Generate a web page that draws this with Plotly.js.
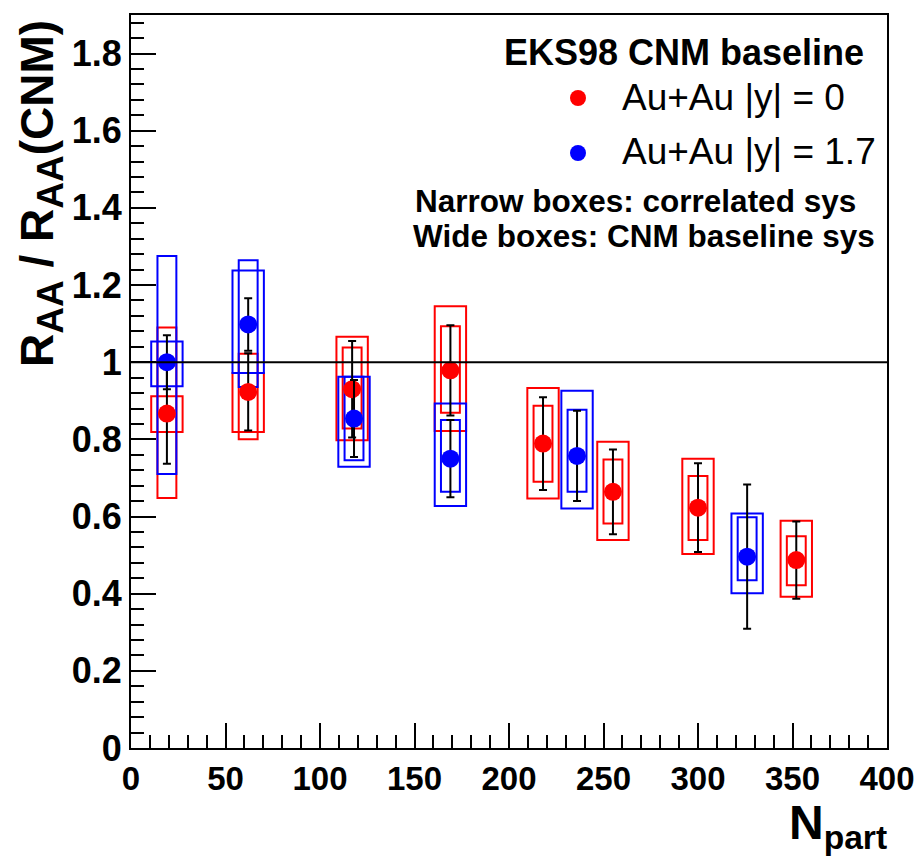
<!DOCTYPE html>
<html>
<head>
<meta charset="utf-8">
<script src="https://cdn.plot.ly/plotly-3.0.1.min.js"></script>
<style>html,body{margin:0;padding:0;background:#fff;}</style>
</head>
<body>
<div id="chart" style="width:922px;height:862px;"></div>
<script>
// Au+Au |y| = 0 (red)
const redNpart = [19, 62, 117, 169, 218, 255, 300, 352];
const redRatio = [0.867, 0.923, 0.930, 0.979, 0.789, 0.664, 0.623, 0.487];
const redStat  = [0.13, 0.10, 0.125, 0.117, 0.12, 0.11, 0.115, 0.10];
const redCorrLo = [0.648, 0.800, 0.828, 0.869, 0.690, 0.582, 0.539, 0.422];
const redCorrHi = [1.090, 1.022, 1.038, 1.093, 0.887, 0.748, 0.705, 0.549];
const redCnmLo  = [0.819, 0.819, 0.798, 0.822, 0.647, 0.539, 0.503, 0.392];
const redCnmHi  = [0.912, 0.972, 1.066, 1.145, 0.933, 0.794, 0.750, 0.589];

// Au+Au |y| = 1.7 (blue)
const blueNpart = [19, 62, 118, 169, 236, 326];
const blueRatio = [1.000, 1.098, 0.854, 0.750, 0.757, 0.496];
const blueStat  = [0.07, 0.068, 0.10, 0.10, 0.117, 0.187];
const blueCorrLo = [0.710, 0.936, 0.746, 0.664, 0.664, 0.435];
const blueCorrHi = [1.275, 1.264, 0.962, 0.850, 0.877, 0.598];
const blueCnmLo  = [0.938, 0.972, 0.729, 0.627, 0.621, 0.401];
const blueCnmHi  = [1.054, 1.238, 0.962, 0.893, 0.926, 0.608];

const xTickVals = [0, 50, 100, 150, 200, 250, 300, 350, 400];
const yTickVals = [0, 0.2, 0.4, 0.6, 0.8, 1, 1.2, 1.4, 1.6, 1.8];

const WIDE = 8.3, NARROW = 5.0;
const RED = 'rgb(255,0,0)', BLUE = 'rgb(0,0,255)';

function boxes(xs, lo, hi, half, color) {
  return xs.map((x, i) => ({
    type: 'rect', xref: 'x', yref: 'y', layer: 'below',
    x0: x - half, x1: x + half, y0: lo[i], y1: hi[i],
    line: {color: color, width: 2}, fillcolor: 'rgba(0,0,0,0)'
  }));
}

const shapes = [].concat(
  boxes(redNpart, redCnmLo, redCnmHi, WIDE, RED),
  boxes(redNpart, redCorrLo, redCorrHi, NARROW, RED),
  boxes(blueNpart, blueCnmLo, blueCnmHi, WIDE, BLUE),
  boxes(blueNpart, blueCorrLo, blueCorrHi, NARROW, BLUE),
  [
    {type: 'line', xref: 'paper', yref: 'y', x0: 0, x1: 1, y0: 1, y1: 1,
     line: {color: 'black', width: 2}},
    {type: 'circle', xref: 'paper', yref: 'paper',
     x0: (570-131)/756, x1: (586-131)/756, y0: (748-106)/733, y1: (748-90)/733,
     fillcolor: RED, line: {width: 0}},
    {type: 'circle', xref: 'paper', yref: 'paper',
     x0: (570-131)/756, x1: (586-131)/756, y0: (748-161)/733, y1: (748-145)/733,
     fillcolor: BLUE, line: {width: 0}}
  ]
);

const traces = [
  {type: 'scatter', mode: 'markers', name: 'Au+Au |y| = 0',
   x: redNpart, y: redRatio,
   error_y: {type: 'data', array: redStat, color: 'black', thickness: 2, width: 4},
   marker: {color: RED, size: 18}},
  {type: 'scatter', mode: 'markers', name: 'Au+Au |y| = 1.7',
   x: blueNpart, y: blueRatio,
   error_y: {type: 'data', array: blueStat, color: 'black', thickness: 2, width: 4},
   marker: {color: BLUE, size: 18}}
];

const FONT = 'Liberation Sans, Arial, Helvetica, sans-serif';
const annFont = (s, w) => ({family: FONT, size: s, color: 'black', weight: w});

const layout = {
  width: 922, height: 862,
  margin: {l: 131, r: 35, t: 15, b: 114},
  paper_bgcolor: 'white', plot_bgcolor: 'white',
  showlegend: false,
  xaxis: {
    range: [0, 400], tickvals: xTickVals, ticks: 'inside', ticklen: 25, tickwidth: 2,
    tickcolor: 'black',
    minor: {dtick: 10, ticks: 'inside', ticklen: 13, tickwidth: 2, tickcolor: 'black'},
    showline: true, mirror: true, linecolor: 'black', linewidth: 2,
    showgrid: false, zeroline: false,
    tickfont: {family: FONT, size: 33, color: 'black', weight: 'bold'}
  },
  yaxis: {
    range: [0, 1.9], tickvals: yTickVals, ticks: 'inside', ticklen: 25, tickwidth: 2,
    tickcolor: 'black',
    minor: {dtick: 0.04, ticks: 'inside', ticklen: 13, tickwidth: 2, tickcolor: 'black'},
    showline: true, mirror: true, linecolor: 'black', linewidth: 2,
    showgrid: false, zeroline: false,
    tickfont: {family: FONT, size: 36, color: 'black', weight: 'bold'}
  },
  shapes: shapes,
  annotations: [
    {xref: 'paper', yref: 'paper', x: (866-131)/756, y: (748-53)/733, xanchor: 'right', yanchor: 'middle',
     text: 'EKS98 CNM baseline', showarrow: false, font: annFont(36, 'bold')},
    {xref: 'paper', yref: 'paper', x: (620-131)/756, y: (748-97)/733, xanchor: 'left', yanchor: 'middle',
     text: 'Au+Au |y| = 0', showarrow: false, font: annFont(37, 'normal')},
    {xref: 'paper', yref: 'paper', x: (620-131)/756, y: (748-151)/733, xanchor: 'left', yanchor: 'middle',
     text: 'Au+Au |y| = 1.7', showarrow: false, font: annFont(37, 'normal')},
    {xref: 'paper', yref: 'paper', x: (858-131)/756, y: (748-201)/733, xanchor: 'right', yanchor: 'middle',
     text: 'Narrow boxes: correlated sys', showarrow: false, font: annFont(31.5, 'bold')},
    {xref: 'paper', yref: 'paper', x: (877-131)/756, y: (748-236)/733, xanchor: 'right', yanchor: 'middle',
     text: 'Wide boxes: CNM baseline sys', showarrow: false, font: annFont(31.5, 'bold')},
    {xref: 'paper', yref: 'paper', x: (41-131)/756, y: (748-194)/733, xanchor: 'center', yanchor: 'middle',
     textangle: -90,
     text: 'R<sub><span style="font-size:37px">AA</span></sub> / R<sub><span style="font-size:37px">AA</span></sub>(CNM)',
     showarrow: false, font: annFont(46, 'bold')},
    {xref: 'paper', yref: 'paper', x: (838-131)/756, y: (748-826)/733, xanchor: 'center', yanchor: 'middle',
     text: 'N<sub>part</sub>', showarrow: false, font: annFont(48, 'bold')}
  ]
};

Plotly.newPlot('chart', traces, layout, {displayModeBar: false, staticPlot: true});
</script>
</body>
</html>
